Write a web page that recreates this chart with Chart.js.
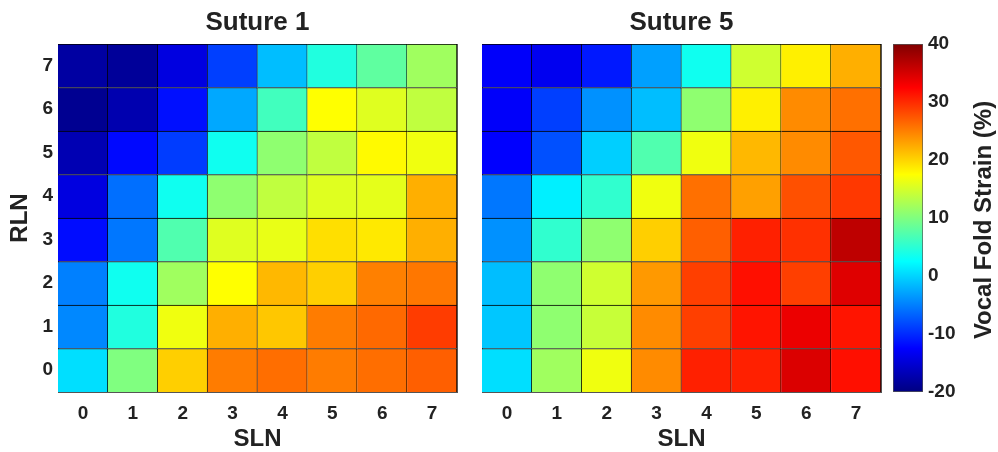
<!DOCTYPE html>
<html>
<head>
<meta charset="utf-8">
<script src="https://cdn.jsdelivr.net/npm/chart.js@4.4.1/dist/chart.umd.min.js"></script>
<style>
  body { margin: 0; background: #fff; }
  #wrap { position: relative; width: 998px; height: 452px; }
  canvas { position: absolute; top: 0; }
</style>
</head>
<body>
<div id="wrap">
  <canvas id="s1" width="470" height="452" style="left:0"></canvas>
  <canvas id="s5" width="420" height="452" style="left:470px"></canvas>
  <canvas id="cbar" width="118" height="452" style="left:880px"></canvas>
</div>
<script>
const sln = ['0', '1', '2', '3', '4', '5', '6', '7'];
const rln = [0, 1, 2, 3, 4, 5, 6, 7];

// strain (%), one row per RLN level (0 at the bottom), columns are SLN 0..7
const suture1 = [
  [0.6, 10, 20.3, 25.2, 26, 25.2, 26, 26.9],
  [-4.5, 4.4, 16.6, 22.2, 20.8, 25.2, 26.3, 29],
  [-5, 3.4, 11.9, 17.5, 21.7, 20.3, 25, 25.5],
  [-11.8, -5.5, 7.2, 15.6, 16.2, 19.4, 18.8, 22.2],
  [-14.3, -6, 3.4, 10.9, 13.8, 15.6, 16, 22.2],
  [-17, -12, -9, 3.4, 10.9, 13.8, 17.8, 16.6],
  [-19, -17.2, -11.6, -2.6, 6.3, 17.5, 15.6, 13.8],
  [-18, -18.5, -14.3, -8.8, -1.3, 4.4, 8.1, 11.9]
];
const suture5 = [
  [0.6, 11.9, 16.6, 24.3, 30.6, 30.6, 34.6, 31.6],
  [-0.8, 10.9, 14.2, 24.3, 28.8, 31.3, 33.6, 31.3],
  [-1.3, 10.9, 14.7, 23.5, 28.8, 31.6, 28.8, 34.4],
  [-4, 5.3, 10.9, 20.3, 26.9, 30.6, 29.7, 36.3],
  [-5.5, 1.6, 5.3, 16.6, 25.9, 23.1, 27.8, 29.2],
  [-12.5, -7.8, -0.3, 7.2, 16.6, 21.7, 24.3, 27.3],
  [-12.8, -8.8, -4, -1.3, 10.9, 18.4, 24.3, 25.9],
  [-12.8, -13.4, -11.1, -3.1, 3.4, 14.7, 18.4, 22.2]
];

const cbarRange = [-20, 40];
const cbarTicks = [-20, -10, 0, 10, 20, 30, 40];
// jet colormap anchor values (dark blue, blue, cyan, yellow, red, dark red)
const jetAnchors = [-20, -12.5, 2.5, 17.5, 32.5, 40];

const FONT = "'Liberation Sans', Arial, sans-serif";
const TEXT = '#222';
const EDGE = '#555';
Chart.defaults.font.family = FONT;
Chart.defaults.font.weight = 'bold';
Chart.defaults.color = TEXT;

function jet(v) {
  const t = Math.min(1, Math.max(0, (v - cbarRange[0]) / (cbarRange[1] - cbarRange[0])));
  const c = x => Math.round(255 * Math.min(1, Math.max(0, 1.5 - Math.abs(4 * t - x))));
  return 'rgb(' + c(3) + ',' + c(2) + ',' + c(1) + ')';
}

function heatDatasets(grid) {
  return grid.map((row, r) => ({
    data: row.map(() => [rln[r] - 0.5, rln[r] + 0.5]),
    backgroundColor: row.map(jet),
    borderColor: '#000',
    borderWidth: { top: 1, right: 1, bottom: 0, left: 0 },
    borderSkipped: false,
    grouped: false,
    barPercentage: 1,
    categoryPercentage: 1
  }));
}

const noGrid = { display: false, drawTicks: false };

function heatmap(id, grid, title, leftW, rightW, showY) {
  new Chart(document.getElementById(id), {
    type: 'bar',
    data: { labels: sln, datasets: heatDatasets(grid) },
    options: {
      responsive: false,
      animation: false,
      layout: { padding: 0 },
      plugins: { legend: { display: false }, tooltip: { enabled: false } },
      scales: {
        x: {
          type: 'category', position: 'bottom', z: 1,
          grid: noGrid, border: { color: EDGE },
          ticks: { padding: 10, font: { size: 19 } },
          title: { display: true, text: 'SLN', font: { size: 24, lineHeight: 1 }, padding: { top: 0, bottom: 1 } },
          afterFit: s => { s.height = 60; }
        },
        x2: {
          type: 'category', position: 'top', z: 1,
          grid: noGrid, border: { color: EDGE },
          ticks: { display: false },
          title: { display: true, text: title, font: { size: 26, lineHeight: 1 }, padding: { top: 10, bottom: 0 } },
          afterFit: s => { s.height = 44; }
        },
        y: {
          type: 'linear', position: 'left', min: -0.5, max: 7.5, z: 1,
          afterBuildTicks: s => { s.ticks = rln.map(v => ({ value: v })); },
          grid: noGrid, border: { color: EDGE },
          ticks: { display: showY, padding: 5, font: { size: 19 } },
          title: { display: showY, text: 'RLN', font: { size: 24, lineHeight: 1 }, padding: { top: 8, bottom: 0 } },
          afterFit: s => { s.width = leftW; }
        },
        y2: {
          type: 'linear', position: 'right', min: -0.5, max: 7.5, z: 1,
          grid: noGrid, border: { color: EDGE },
          ticks: { display: false },
          afterFit: s => { s.width = rightW; }
        }
      }
    }
  });
}

heatmap('s1', suture1, 'Suture 1', 58, 13, true);
heatmap('s5', suture5, 'Suture 5', 12, 9, false);

// colorbar title, drawn reading bottom-to-top like the reference
const cbarTitle = {
  id: 'cbarTitle',
  afterDraw(chart) {
    const c = chart.ctx;
    const a = chart.chartArea;
    c.save();
    c.translate(104, (a.top + a.bottom) / 2 + 2);
    c.rotate(-Math.PI / 2);
    c.font = 'bold 24px ' + FONT;
    c.textAlign = 'center';
    c.textBaseline = 'middle';
    c.fillStyle = TEXT;
    c.fillText('Vocal Fold Strain (%)', 0, 0);
    c.restore();
  }
};

new Chart(document.getElementById('cbar'), {
  type: 'bar',
  data: {
    labels: [''],
    datasets: [{
      data: [cbarRange],
      backgroundColor: ctx => {
        const a = ctx.chart.chartArea;
        if (!a) return null;
        const g = ctx.chart.ctx.createLinearGradient(0, a.bottom, 0, a.top);
        jetAnchors.forEach(v => g.addColorStop((v - cbarRange[0]) / (cbarRange[1] - cbarRange[0]), jet(v)));
        return g;
      },
      borderColor: EDGE,
      borderWidth: 1,
      borderSkipped: false,
      barPercentage: 1,
      categoryPercentage: 1
    }]
  },
  options: {
    responsive: false,
    animation: false,
    layout: { padding: { left: 13, top: 44, bottom: 60, right: 0 } },
    plugins: { legend: { display: false }, tooltip: { enabled: false } },
    scales: {
      x: { display: false },
      y: {
        position: 'right', min: cbarRange[0], max: cbarRange[1],
        afterBuildTicks: s => { s.ticks = cbarTicks.map(v => ({ value: v })); },
        grid: noGrid, border: { display: false },
        ticks: { padding: 5, font: { size: 19 } },
        afterFit: s => { s.width = 75; }
      }
    }
  },
  plugins: [cbarTitle]
});
</script>
</body>
</html>
